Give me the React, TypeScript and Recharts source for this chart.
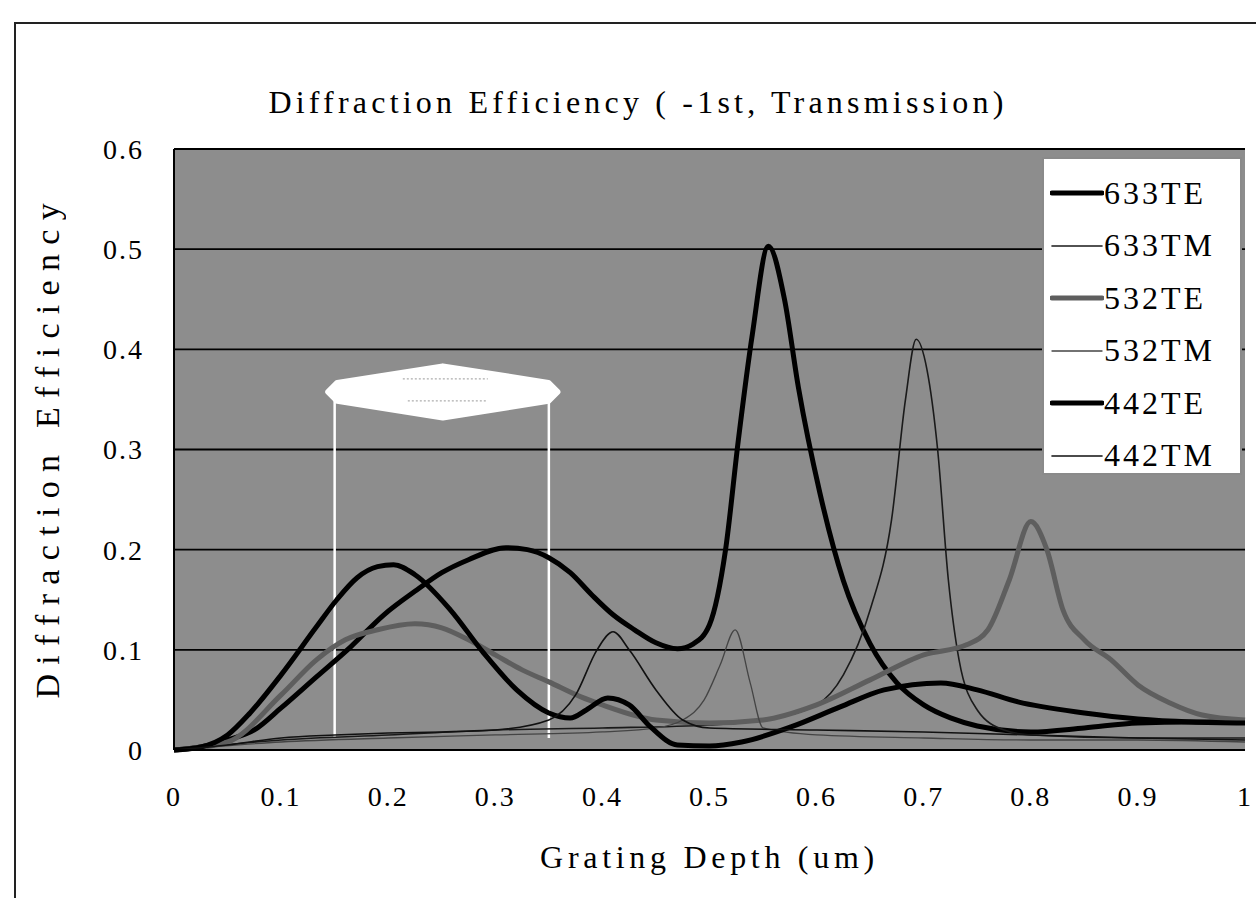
import React from "react";
import {
  LineChart,
  Line,
  XAxis,
  YAxis,
  CartesianGrid,
  Legend,
  ReferenceArea,
  ReferenceLine,
  Label,
} from "recharts";

const depthTicks = [0, 0.1, 0.2, 0.3, 0.4, 0.5, 0.6, 0.7, 0.8, 0.9, 1];
const effTicks = [0, 0.1, 0.2, 0.3, 0.4, 0.5, 0.6];

// [grating depth (um), efficiency]
const te633: [number, number][] = [
  [0, 0], [0.025, 0.003], [0.05, 0.01], [0.075, 0.02], [0.1, 0.042], [0.133, 0.073],
  [0.165, 0.103], [0.196, 0.135], [0.227, 0.16], [0.25, 0.177], [0.275, 0.19],
  [0.31, 0.202], [0.33, 0.2], [0.35, 0.192], [0.37, 0.177], [0.39, 0.155],
  [0.41, 0.135], [0.43, 0.12], [0.45, 0.107], [0.47, 0.101], [0.485, 0.106],
  [0.5, 0.125], [0.515, 0.2], [0.527, 0.31], [0.54, 0.415], [0.555, 0.503],
  [0.57, 0.45], [0.583, 0.362], [0.603, 0.257], [0.625, 0.169], [0.65, 0.106],
  [0.675, 0.067], [0.7, 0.045], [0.725, 0.032], [0.75, 0.024], [0.8, 0.018],
  [0.85, 0.022], [0.9, 0.027], [0.95, 0.028], [1, 0.028],
];

const tm633: [number, number][] = [
  [0, 0], [0.1, 0.01], [0.2, 0.015], [0.3, 0.02], [0.4, 0.022], [0.5, 0.025],
  [0.55, 0.03], [0.6, 0.045], [0.625, 0.075], [0.65, 0.14], [0.67, 0.23],
  [0.683, 0.35], [0.693, 0.41], [0.703, 0.38], [0.713, 0.3], [0.723, 0.17],
  [0.733, 0.09], [0.75, 0.04], [0.775, 0.02], [0.8, 0.015], [0.9, 0.012], [1, 0.012],
];

const te532: [number, number][] = [
  [0, 0], [0.05, 0.008], [0.1, 0.055], [0.133, 0.09], [0.16, 0.11], [0.19, 0.12],
  [0.225, 0.126], [0.25, 0.122], [0.275, 0.11], [0.3, 0.095], [0.325, 0.08],
  [0.35, 0.068], [0.38, 0.053], [0.4, 0.045], [0.45, 0.03], [0.5, 0.027],
  [0.55, 0.03], [0.6, 0.045], [0.65, 0.07], [0.7, 0.095], [0.74, 0.105],
  [0.76, 0.12], [0.78, 0.17], [0.8, 0.228], [0.815, 0.2], [0.83, 0.14],
  [0.85, 0.11], [0.875, 0.09], [0.9, 0.065], [0.93, 0.047], [0.96, 0.035], [1, 0.03],
];

const tm532: [number, number][] = [
  [0, 0], [0.1, 0.008], [0.2, 0.012], [0.3, 0.015], [0.4, 0.018], [0.45, 0.022],
  [0.475, 0.03], [0.495, 0.05], [0.51, 0.085], [0.524, 0.12], [0.538, 0.067],
  [0.55, 0.022], [0.6, 0.015], [0.7, 0.012], [0.8, 0.01], [0.9, 0.01], [1, 0.008],
];

const te442: [number, number][] = [
  [0, 0], [0.025, 0.003], [0.05, 0.015], [0.071, 0.037], [0.1, 0.075], [0.133, 0.123],
  [0.152, 0.15], [0.171, 0.172], [0.19, 0.183], [0.205, 0.185], [0.225, 0.175],
  [0.258, 0.14], [0.289, 0.097], [0.32, 0.06], [0.35, 0.037], [0.37, 0.032],
  [0.385, 0.04], [0.405, 0.052], [0.425, 0.045], [0.445, 0.023], [0.47, 0.005],
  [0.5, 0.004], [0.53, 0.008], [0.576, 0.023], [0.622, 0.043], [0.663, 0.06],
  [0.716, 0.067], [0.75, 0.06], [0.788, 0.048], [0.85, 0.037], [0.9, 0.031],
  [0.95, 0.028], [1, 0.027],
];

const tm442: [number, number][] = [
  [0, 0], [0.05, 0.005], [0.1, 0.012], [0.15, 0.015], [0.2, 0.017], [0.25, 0.018],
  [0.3, 0.02], [0.35, 0.03], [0.375, 0.055], [0.395, 0.1], [0.41, 0.118],
  [0.425, 0.1], [0.45, 0.06], [0.475, 0.03], [0.5, 0.022], [0.6, 0.02],
  [0.7, 0.018], [0.8, 0.015], [0.9, 0.012], [1, 0.01],
];

const series = [
  { name: "633TE", points: te633, stroke: "#000000", width: 5 },
  { name: "633TM", points: tm633, stroke: "#1a1a1a", width: 1.6 },
  { name: "532TE", points: te532, stroke: "#5e5e5e", width: 5 },
  { name: "532TM", points: tm532, stroke: "#444444", width: 1.3 },
  { name: "442TE", points: te442, stroke: "#000000", width: 5 },
  { name: "442TM", points: tm442, stroke: "#111111", width: 1.6 },
];

const serif = "'Liberation Serif', 'Times New Roman', serif";

const rows = (pts: [number, number][]) => pts.map(([depth, eff]) => ({ depth, eff }));

// white double-headed arrow marking the 0.15-0.35 um range
const ArrowLens = (props: any) => {
  const { x, y, width, height } = props;
  const cy = y + height / 2;
  const xc = x + width / 2;
  const pts = [
    [x, cy], [x + 9, cy - 9], [xc, y], [x + width - 9, cy - 9],
    [x + width, cy], [x + width - 9, cy + 9], [xc, y + height], [x + 9, cy + 9],
  ].map((p) => p.join(",")).join(" ");
  return (
    <g>
      <polygon points={pts} fill="#fff" stroke="#fff" strokeWidth={6} strokeLinejoin="round" />
      <line x1={xc - 40} x2={xc + 45} y1={cy - 13} y2={cy - 13} stroke="#999" strokeDasharray="2 2" />
      <line x1={xc - 35} x2={xc + 45} y1={cy + 9} y2={cy + 9} stroke="#999" strokeDasharray="2 2" />
    </g>
  );
};

const LegendBox = () => (
  <div
    style={{
      width: 200,
      height: 318,
      background: "#fff",
      border: "2px solid #8a8a8a",
      boxSizing: "border-box",
      paddingTop: 8,
      fontFamily: serif,
    }}
  >
    {series.map((s) => (
      <div key={s.name} style={{ display: "flex", alignItems: "center", height: 52.5 }}>
        <svg width={54} height={12} style={{ marginLeft: 6 }}>
          <line x1={2} x2={52} y1={6} y2={6} stroke={s.stroke} strokeWidth={s.width} strokeLinecap="round" />
        </svg>
        <span style={{ fontSize: 32, letterSpacing: 3, color: "#000" }}>{s.name}</span>
      </div>
    ))}
  </div>
);

const tickStyle = { fontSize: 28, fontFamily: serif, fill: "#000", letterSpacing: 2 };

export default function App() {
  return (
    <div style={{ position: "absolute", left: 0, top: 0, width: 1256, height: 898, background: "#fff" }}>
      <div
        style={{
          position: "absolute",
          left: 14,
          top: 22,
          right: 0,
          bottom: 0,
          borderTop: "2px solid #222",
          borderLeft: "2px solid #222",
        }}
      />
      <div
        style={{
          position: "absolute",
          left: 0,
          width: 1276,
          top: 84,
          textAlign: "center",
          fontFamily: serif,
          fontSize: 32,
          letterSpacing: 4.2,
          color: "#000",
        }}
      >
        Diffraction Efficiency ( -1st, Transmission)
      </div>
      {/* y-axis title, reading bottom to top */}
      <div
        style={{
          position: "absolute",
          left: 28,
          top: 180,
          width: 40,
          height: 518,
        }}
      >
        <div
          style={{
            position: "absolute",
            left: 0,
            bottom: 0,
            width: 40,
            writingMode: "vertical-rl",
            transform: "rotate(180deg)",
            fontFamily: serif,
            fontSize: 34,
            lineHeight: "40px",
            letterSpacing: 9.3,
            whiteSpace: "nowrap",
            color: "#000",
          }}
        >
          Diffraction Efficiency
        </div>
      </div>
      <div style={{ position: "absolute", left: 0, top: 0 }}>
        <LineChart width={1256} height={898} margin={{ top: 149, right: 11, bottom: 0, left: 0 }}>
          <CartesianGrid horizontal vertical={false} fill="#8d8d8d" stroke="#000" strokeWidth={1.8} />
          <XAxis
            type="number"
            dataKey="depth"
            domain={[0, 1]}
            ticks={depthTicks}
            height={148}
            tickSize={0}
            tickMargin={36}
            axisLine={{ stroke: "#000", strokeWidth: 2 }}
            tickLine={false}
            tick={tickStyle}
          >
            <Label
              value="Grating Depth (um)"
              position="insideBottom"
              offset={30}
              style={{ fontSize: 32, fontFamily: serif, fill: "#000", letterSpacing: 4.7 }}
            />
          </XAxis>
          <YAxis
            type="number"
            domain={[0, 0.6]}
            ticks={effTicks}
            width={174}
            tickSize={0}
            tickMargin={30}
            axisLine={{ stroke: "#000", strokeWidth: 2 }}
            tickLine={false}
            tick={tickStyle}
          />
          <ReferenceLine
            segment={[{ x: 0.15, y: 0.012 }, { x: 0.15, y: 0.357 }]}
            stroke="#fff"
            strokeWidth={2.5}
          />
          <ReferenceLine
            segment={[{ x: 0.35, y: 0.012 }, { x: 0.35, y: 0.357 }]}
            stroke="#fff"
            strokeWidth={2.5}
          />
          <ReferenceArea x1={0.144} x2={0.358} y1={0.332} y2={0.383} shape={<ArrowLens />} />
          {series.map((s) => (
            <Line
              key={s.name}
              data={rows(s.points)}
              dataKey="eff"
              name={s.name}
              type="monotone"
              stroke={s.stroke}
              strokeWidth={s.width}
              dot={false}
              activeDot={false}
              isAnimationActive={false}
            />
          ))}
          <Legend
            layout="vertical"
            align="center"
            verticalAlign="middle"
            content={() => <LegendBox />}
            wrapperStyle={{ left: 1042, top: 157, width: 200, height: 318 }}
          />
        </LineChart>
      </div>
    </div>
  );
}
